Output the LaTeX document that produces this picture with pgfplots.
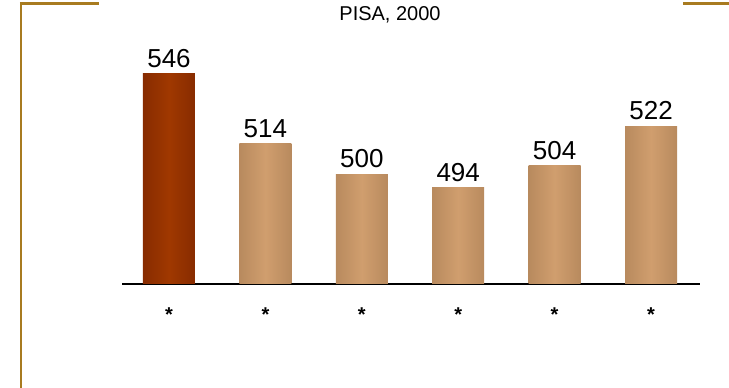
\documentclass[border=0pt]{standalone}
\usepackage{pgfplots}
\pgfplotsset{compat=1.18}
\usepackage{fontspec}
\setmainfont{Liberation Sans}
\definecolor{framec}{HTML}{A87B20}
\definecolor{redD}{HTML}{872B00}
\definecolor{redL}{HTML}{A03800}
\definecolor{tanD}{HTML}{B88A5E}
\definecolor{tanL}{HTML}{D09E6E}
\begin{document}
\begin{tikzpicture}[x=1pt,y=1pt]
\useasboundingbox (0,0) rectangle (729,388);
\draw[framec, line width=2.2pt] (21,385.5) -- (21,0);
\draw[framec, line width=2.2pt] (19.9,384.5) -- (99,384.5);
\draw[framec, line width=2.2pt] (683,384.5) -- (729,384.5);
\node[anchor=base, inner sep=0pt, font=\fontsize{20}{24}\selectfont] at (390,367.3) {PISA, 2000};
\begin{axis}[
  at={(122pt,104pt)}, anchor=south west,
  scale only axis, width=578pt, height=241pt,
  xmin=-0.4875, xmax=5.508, ymin=450, ymax=560,
  axis x line=bottom, axis y line=none,
  axis line style={-, black, line width=1.5pt},
  xtick={0,1,2,3,4,5},
  xticklabels={*,*,*,*,*,*},
  major tick length=0pt,
  xticklabel style={anchor=base, yshift=-37.6pt, font=\fontsize{20}{24}\selectfont\bfseries},
  ybar, bar width=52pt, bar shift=0pt,
  nodes near coords={\fontsize{26}{30}\selectfont\pgfmathprintnumber[assume math mode=true]{\pgfplotspointmeta}},
  every node near coord/.append style={inner sep=0pt, yshift=6pt, black},
  clip=false,
  tanbar/.style={draw=none, left color=tanD, right color=tanD, middle color=tanL},
]
\addplot[draw=none, left color=redD, right color=redD, middle color=redL] coordinates {(0,546)};
\addplot[tanbar] coordinates {(1,514)};
\addplot[tanbar] coordinates {(2,500)};
\addplot[tanbar] coordinates {(3,494)};
\addplot[tanbar] coordinates {(4,504)};
\addplot[tanbar] coordinates {(5,522)};
\end{axis}
\end{tikzpicture}
\end{document}
